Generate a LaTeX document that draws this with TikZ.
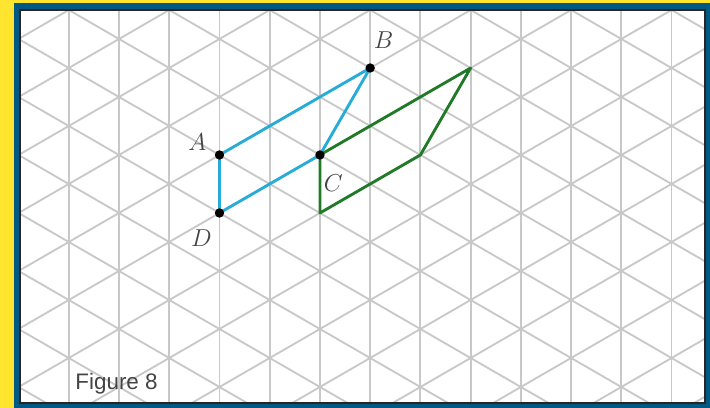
\documentclass[tikz,border=0pt]{standalone}
\usepackage{xcolor}
\usepackage{amsmath}
\usepackage{fontspec}
\usepackage{tikz}
\usetikzlibrary{calc}
\newfontfamily\figfont{Liberation Sans}
\definecolor{frameyellow}{RGB}{255,228,48}
\definecolor{frameblue}{RGB}{0,88,132}
\definecolor{shapecyan}{RGB}{38,172,214}
\definecolor{shapegreen}{RGB}{32,122,40}
\definecolor{gridgray}{RGB}{200,200,200}
\definecolor{labelgray}{RGB}{68,68,68}

\begin{document}
\begin{tikzpicture}[
  gridline/.style={gridgray, line width=0.9pt},
  origshape/.style={shapecyan, line width=1.4pt, line join=round},
  imgshape/.style={shapegreen, line width=1.4pt, line join=round},
  dot/.style={circle, fill=black, inner sep=0pt, minimum size=4.6pt},
  lbl/.style={labelgray, font=\fontsize{12}{14}\selectfont}]

  % Cadre
  \fill[frameyellow] (0,0) rectangle (12.241,-7.034);
  \fill[frameblue] (0.241,-0.052) rectangle (12.241,-7.034);
  \fill[white] (0.345,-0.172) rectangle (12.155,-6.948);

  % Grille
  \begin{scope}
    \clip (0.345,-0.172) rectangle (12.155,-6.948);
    \foreach \k in {-2,...,11}
      \draw[gridline] ({2.052+0.866*\k},0) -- ({2.052+0.866*\k},-7.1);
    \foreach \m in {-13,...,8} {
      \draw[gridline] (0,{-0.672+\m-2.052*0.57735}) -- (12.3,{-0.672+\m+(12.3-2.052)*0.57735});
      \draw[gridline] (0,{-0.672+\m+2.052*0.57735}) -- (12.3,{-0.672+\m-(12.3-2.052)*0.57735});
    }
  \end{scope}
  \draw[black!85, line width=1pt] (0.345,-0.172) rectangle (12.155,-6.948);

  % ABCD
  \coordinate (A) at (3.784,-2.672);
  \coordinate (D) at ($(A)+(0,-1)$);
  \coordinate (C) at ($(A)+(1.732,0)$);
  \coordinate (B) at ($(C)+(0.866,1.5)$);

  % Image par translation AC
  \coordinate (Bimg) at ($(B)+(1.732,0)$);
  \coordinate (Cimg) at ($(C)+(1.732,0)$);
  \coordinate (Dimg) at ($(D)+(1.732,0)$);

  \draw[origshape] (A) -- (B) -- (C) -- (D) -- cycle;
  \draw[imgshape] (C) -- (Bimg) -- (Cimg) -- (Dimg) -- cycle;

  \foreach \p in {A,B,C,D}
    \node[dot] (dot\p) at (\p) {};

  % Lettres
  \node[lbl] (labA) at ($(A)+(-0.38,0.22)$) {$A$};
  \node[lbl] (labB) at ($(B)+(0.23,0.48)$) {$B$};
  \node[lbl] (labC) at ($(C)+(0.23,-0.48)$) {$C$};
  \node[lbl] (labD) at ($(D)+(-0.31,-0.43)$) {$D$};

  \node[anchor=base west, inner sep=0pt, labelgray,
        font=\figfont\fontsize{11}{13}\selectfont] (caption) at (1.293,-6.707) {Figure 8};
\end{tikzpicture}
\end{document}
